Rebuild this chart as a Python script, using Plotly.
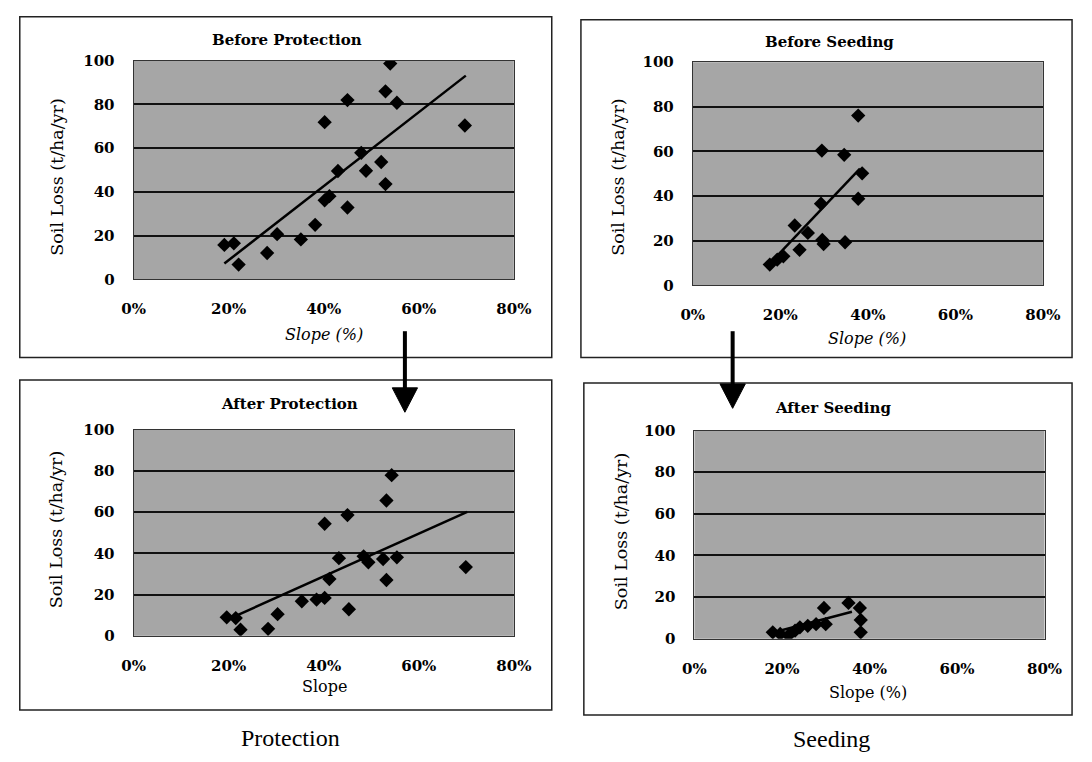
import plotly.graph_objects as go

# ---------------- data ----------------
bp_slope = [0.191, 0.211, 0.221, 0.281, 0.302, 0.352, 0.382, 0.402, 0.412, 0.402, 0.430,
            0.450, 0.450, 0.479, 0.489, 0.521, 0.530, 0.530, 0.540, 0.554, 0.697]
bp_loss = [15.8, 16.5, 6.8, 12.1, 20.7, 18.3, 25.0, 36.2, 38.1, 71.9, 49.6,
           82.0, 32.9, 57.9, 49.7, 53.7, 86.0, 43.6, 98.7, 80.8, 70.4]
bp_trend_x = [0.191, 0.699]
bp_trend_y = [7.3, 93.2]

bs_slope = [0.176, 0.193, 0.207, 0.233, 0.244, 0.263, 0.293, 0.295, 0.296, 0.299,
            0.346, 0.348, 0.378, 0.387, 0.378]
bs_loss = [9.3, 11.5, 13.0, 26.8, 15.9, 23.5, 36.6, 60.4, 20.3, 18.5,
           58.5, 19.3, 76.1, 50.2, 38.8]
bs_trend_x = [0.172, 0.382]
bs_trend_y = [8.9, 52.3]

ap_slope = [0.196, 0.215, 0.225, 0.283, 0.303, 0.354, 0.385, 0.402, 0.402, 0.412, 0.432,
            0.450, 0.453, 0.484, 0.494, 0.525, 0.532, 0.532, 0.543, 0.554, 0.699]
ap_loss = [9.0, 8.6, 3.0, 3.4, 10.5, 16.8, 17.6, 18.4, 54.4, 27.6, 37.7,
           58.6, 12.9, 38.6, 35.7, 37.3, 65.7, 27.1, 78.0, 38.1, 33.4]
ap_trend_x = [0.201, 0.702]
ap_trend_y = [8.2, 60.2]

as_slope = [0.179, 0.196, 0.215, 0.230, 0.241, 0.259, 0.278, 0.296, 0.300,
            0.352, 0.378, 0.380, 0.380]
as_loss = [3.1, 2.3, 1.6, 3.9, 5.5, 6.2, 7.0, 14.8, 7.0,
           17.2, 14.8, 3.1, 9.0]
as_trend_x = [0.180, 0.360]
as_trend_y = [3.0, 13.0]

panel_titles = ["Before Protection", "Before Seeding", "After Protection", "After Seeding"]
x_titles = ["Slope (%)", "Slope (%)", "Slope", "Slope (%)"]
y_title = "Soil Loss (t/ha/yr)"
captions = ["Protection", "Seeding"]
x_ticks = [0, 0.2, 0.4, 0.6, 0.8]
y_ticks = [0, 20, 40, 60, 80, 100]

# ---------------- layout helpers ----------------
W, H = 1092, 762
def fx(px):
    return px / W
def fy(py):
    return 1 - py / H

SERIF = "DejaVu Serif"
TIMES = "Liberation Serif"
PLOT_BG = "#a6a6a6"

# plot areas in pixels: (left, right, top, bottom)
areas = [
    (125, 516, 53, 277),
    (700, 1060, 54.5, 283),
    (125, 516, 431, 642),
    (701.7, 1061.7, 431.7, 645),
]

series = [
    (bp_slope, bp_loss, bp_trend_x, bp_trend_y),
    (bs_slope, bs_loss, bs_trend_x, bs_trend_y),
    (ap_slope, ap_loss, ap_trend_x, ap_trend_y),
    (as_slope, as_loss, as_trend_x, as_trend_y),
]

fig = go.Figure()
layout = dict(
    width=W, height=H,
    margin=dict(l=0, r=0, t=0, b=0),
    paper_bgcolor="white",
    plot_bgcolor=PLOT_BG,
    showlegend=False,
)

for i, ((l, r, t, b), (sx, sy, tx, ty)) in enumerate(zip(areas, series)):
    n = "" if i == 0 else str(i + 1)
    xa, ya = "x" + n, "y" + n
    fig.add_trace(go.Scatter(x=tx, y=ty, mode="lines", xaxis=xa, yaxis=ya,
                             line=dict(color="black", width=2.5), hoverinfo="skip"))
    fig.add_trace(go.Scatter(x=sx, y=sy, mode="markers", xaxis=xa, yaxis=ya,
                             marker=dict(symbol="diamond", size=11, color="black")))
    layout["xaxis" + n] = dict(
        domain=[fx(l), fx(r)], anchor=ya, range=[0, 0.8],
        tickvals=x_ticks, tickformat=".0%",
        showgrid=False, zeroline=False,
        showline=True, mirror=True, linecolor="#333", linewidth=1,
        ticks="outside", ticklen=16, tickcolor="rgba(0,0,0,0)",
        tickfont=dict(family=SERIF, size=15, color="black", weight="bold"),
    )
    layout["yaxis" + n] = dict(
        domain=[fy(b), fy(t)], anchor=xa, range=[0, 100],
        tickvals=y_ticks,
        showgrid=True, gridcolor="#111", gridwidth=1.5, zeroline=False,
        showline=True, mirror=True, linecolor="#333", linewidth=1,
        ticks="outside", ticklen=15, tickcolor="rgba(0,0,0,0)",
        tickfont=dict(family=SERIF, size=15, color="black", weight="bold"),
    )

# ---------------- text ----------------
annotations = []
title_pos = [(283, 32), (841, 34), (285, 405), (844, 409)]
xtitle_pos = [(321, 333), (879, 337), (321, 694), (880, 700)]
ytitle_pos = [(46, 172), (623, 172), (46, 533), (627, 535)]
xtitle_style = ["italic", "italic", "normal", "normal"]

for i in range(4):
    annotations.append(dict(
        text=panel_titles[i], xref="paper", yref="paper",
        x=fx(title_pos[i][0]), y=fy(title_pos[i][1]),
        xanchor="center", yanchor="middle", showarrow=False,
        font=dict(family=SERIF, size=15, color="black", weight="bold")))
    annotations.append(dict(
        text=x_titles[i], xref="paper", yref="paper",
        x=fx(xtitle_pos[i][0]), y=fy(xtitle_pos[i][1]),
        xanchor="center", yanchor="middle", showarrow=False,
        font=dict(family=SERIF, size=16, color="black", style=xtitle_style[i])))
    annotations.append(dict(
        text=y_title, xref="paper", yref="paper", textangle=-90,
        x=fx(ytitle_pos[i][0]), y=fy(ytitle_pos[i][1]),
        xanchor="center", yanchor="middle", showarrow=False,
        font=dict(family=SERIF, size=17.5, color="black")))

caption_pos = [(286, 747), (843, 748)]
for c, (cx, cy) in zip(captions, caption_pos):
    annotations.append(dict(
        text=c, xref="paper", yref="paper", x=fx(cx), y=fy(cy),
        xanchor="center", yanchor="middle", showarrow=False,
        font=dict(family=TIMES, size=24, color="black")))

layout["annotations"] = annotations

# ---------------- frames and arrows ----------------
shapes = []
frames = [(8, 555, 8, 357), (585, 1090, 11, 357), (8, 555, 380, 718), (588, 1090, 383, 723)]
for (l, r, t, b) in frames:
    shapes.append(dict(type="rect", xref="paper", yref="paper",
                       x0=fx(l), x1=fx(r), y0=fy(b), y1=fy(t),
                       line=dict(color="#222", width=1.5), fillcolor="rgba(0,0,0,0)"))

arrows = [(404, 330, 388, 13, 413), (741, 330, 384, 13, 409)]
for (ax, y0, yh, hw, ytip) in arrows:
    shapes.append(dict(type="line", xref="paper", yref="paper",
                       x0=fx(ax), x1=fx(ax), y0=fy(y0), y1=fy(yh + 2),
                       line=dict(color="black", width=4)))
    path = "M {} {} L {} {} L {} {} Z".format(
        fx(ax - hw), fy(yh), fx(ax + hw), fy(yh), fx(ax), fy(ytip))
    shapes.append(dict(type="path", xref="paper", yref="paper", path=path,
                       fillcolor="black", line=dict(color="black", width=1)))

layout["shapes"] = shapes
fig.update_layout(**layout)
fig.write_html("out.html",
               config={"displayModeBar": False},
               post_script="document.body.style.margin='0';document.body.style.overflow='hidden';")
